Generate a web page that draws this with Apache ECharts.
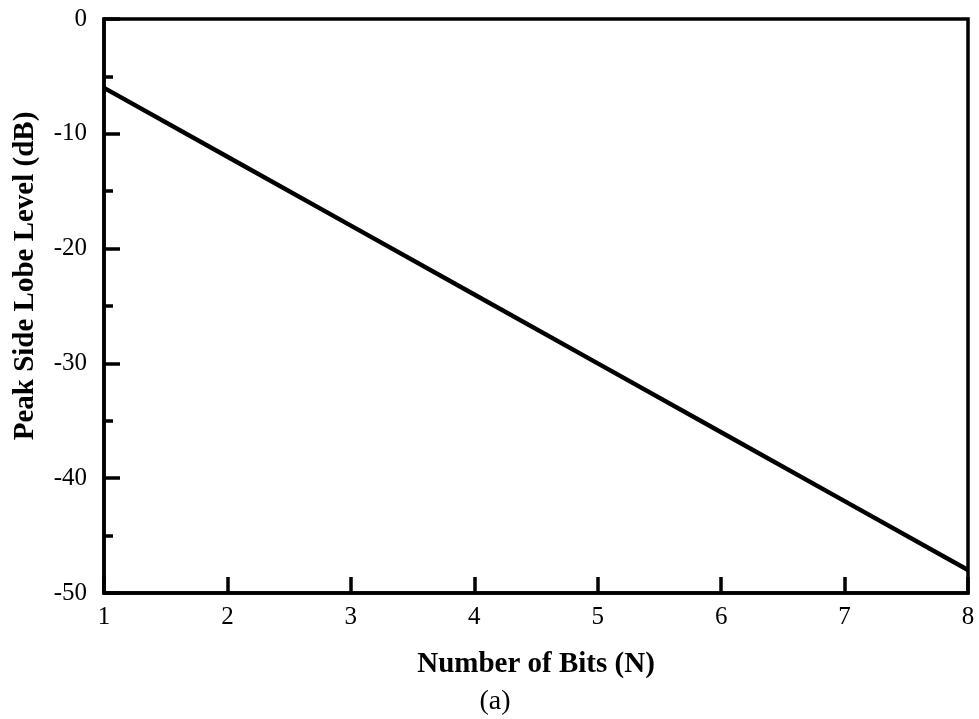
<!DOCTYPE html>
<html>
<head>
<meta charset="utf-8">
<script src="https://cdn.jsdelivr.net/npm/echarts@6/dist/echarts.min.js"></script>
<style>
html,body{margin:0;padding:0;background:#fff;}
#c{width:979px;height:719px;}
</style>
</head>
<body>
<div id="c"></div>
<script>
const bits = [1, 2, 3, 4, 5, 6, 7, 8];
const psll = [-6, -12, -18, -24, -30, -36, -42, -48];
const xTicks = [1, 2, 3, 4, 5, 6, 7, 8];
const yTicks = [0, -10, -20, -30, -40, -50];
const xName = 'Number of Bits (N)';
const yName = 'Peak Side Lobe Level (dB)';
const caption = '(a)';

const FONT = "'Liberation Serif', 'Times New Roman', serif";
const chart = echarts.init(document.getElementById('c'), null, {renderer: 'canvas'});
chart.setOption({
  animation: false,
  backgroundColor: '#fff',
  grid: {left: 104, right: 11, top: 19, bottom: 126, show: true, borderColor: '#000', borderWidth: 3.5},
  xAxis: {
    type: 'value', min: xTicks[0], max: xTicks[xTicks.length - 1], interval: 1,
    position: 'bottom',
    name: xName, nameLocation: 'middle', nameGap: 57,
    nameTextStyle: {fontFamily: FONT, fontSize: 29, fontWeight: 'bold', color: '#000'},
    axisLine: {onZero: false, lineStyle: {color: '#000', width: 3.5}},
    axisTick: {inside: true, length: 16, lineStyle: {color: '#000', width: 3.5}},
    axisLabel: {fontFamily: FONT, fontSize: 25, color: '#000', margin: 12},
    splitLine: {show: false}
  },
  yAxis: {
    type: 'value', min: yTicks[yTicks.length - 1], max: yTicks[0], interval: 10,
    position: 'left',
    axisLine: {onZero: false, lineStyle: {color: '#000', width: 3.5}},
    axisTick: {inside: true, length: 16, lineStyle: {color: '#000', width: 3.5}},
    minorTick: {show: true, splitNumber: 2, length: 9, lineStyle: {color: '#000', width: 3.5}},
    axisLabel: {fontFamily: FONT, fontSize: 25, color: '#000', margin: 17},
    splitLine: {show: false}
  },
  graphic: [
    {type: 'text', x: 26, y: 276, rotation: Math.PI / 2,
     style: {text: yName, font: 'bold 29px ' + FONT, fill: '#000', align: 'center', verticalAlign: 'middle'}},
    {type: 'text', x: 495, y: 702,
     style: {text: caption, font: '28px ' + FONT, fill: '#000', align: 'center', verticalAlign: 'middle'}}
  ],
  series: [{
    type: 'line', data: bits.map((b, i) => [b, psll[i]]),
    showSymbol: false, symbol: 'none',
    lineStyle: {color: '#000', width: 4.5},
    clip: false
  }]
});
</script>
</body>
</html>
